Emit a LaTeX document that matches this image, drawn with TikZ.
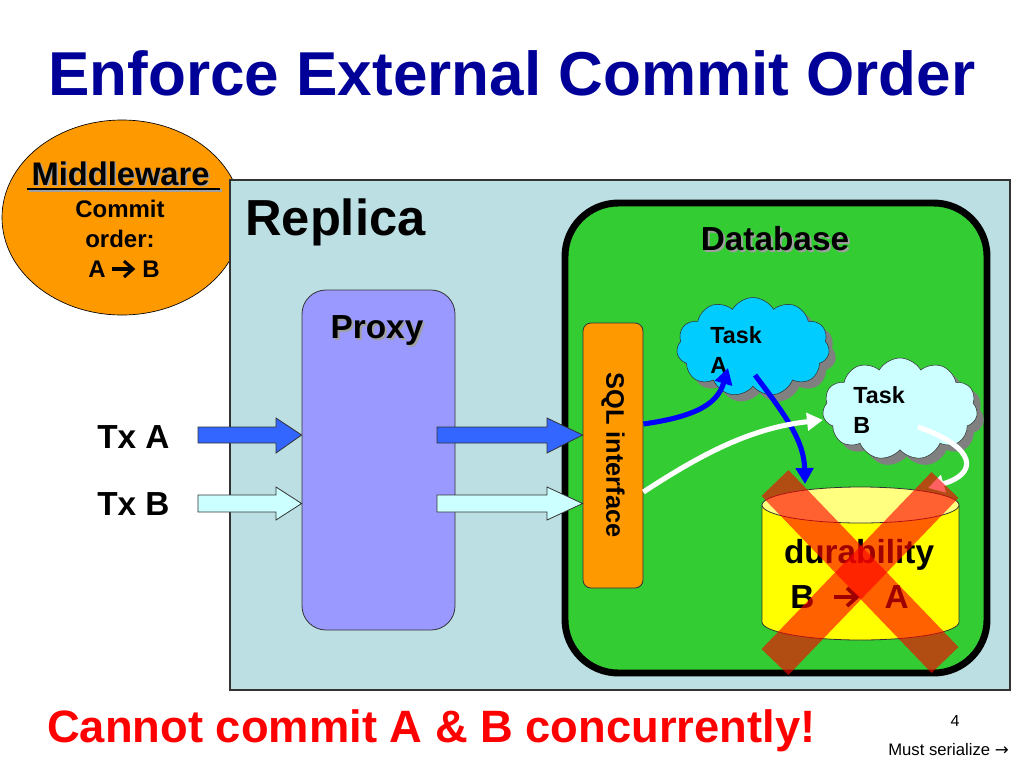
\documentclass[tikz,border=0pt]{standalone}
\usepackage{fontspec}
\setmainfont{Liberation Sans}
\newfontfamily\symfont{DejaVu Sans}
\usetikzlibrary{shapes.symbols,shapes.geometric,shadows,arrows.meta}
\definecolor{titleblue}{HTML}{000099}
\definecolor{replicabg}{HTML}{BCDFE3}
\definecolor{mworange}{HTML}{FF9900}
\definecolor{dbgreen}{HTML}{33CC33}
\definecolor{proxyviolet}{HTML}{9999FF}
\definecolor{arrblue}{HTML}{3366FF}
\definecolor{arrlight}{HTML}{CCFFFF}
\definecolor{taskacol}{HTML}{00CCFF}
\definecolor{taskbcol}{HTML}{CCFFFF}
\definecolor{cylbody}{HTML}{FFFF00}
\definecolor{cyltop}{HTML}{FFFF80}
\definecolor{outl}{HTML}{333333}
\definecolor{shadowgray}{HTML}{A0A0A0}
\tikzset{
  txt/.style={inner sep=0pt, font=\bfseries},
  shtxt/.style={inner sep=0pt, font=\bfseries, text=shadowgray},
  blockarr/.style={draw=outl, line width=0.6pt, line join=miter},
  cloudbox/.style={cloud, cloud puffs=11, cloud puff arc=120, cloud ignores aspect,
     draw=outl, line width=0.4pt, inner sep=0pt,
     drop shadow={shadow xshift=5pt, shadow yshift=-5pt, fill=gray, opacity=1}},
  curvearr/.style={line width=3.8pt, -{Triangle[length=12pt,width=13pt]}},
  glypharr/.style={line width=2.3pt, line join=miter, line cap=butt},
  xbar/.style={line width=28pt, draw=red, opacity=0.62, line cap=butt},
}
\begin{document}
\begin{tikzpicture}[x=0.75pt,y=-0.75pt]
\useasboundingbox (0,0) rectangle (1024,768);
\fill[white] (0,0) rectangle (1024,768);

% title
\node[txt, anchor=base, text=titleblue, font=\bfseries\fontsize{46.5}{50}\selectfont] (title) at (512,95) {Enforce External Commit Order};

% middleware ellipse
\node[ellipse, fill=mworange, draw=black, line width=0.5pt, minimum width=180pt, minimum height=146.25pt, inner sep=0pt] (mw) at (122,217.5) {};

% replica
\node[rectangle, fill=replicabg, draw=outl, line width=0.8pt, minimum width=585pt, minimum height=382.5pt, inner sep=0pt] (replica) at (620,435) {};

% middleware texts
\node[shtxt, anchor=base, font=\bfseries\fontsize{24.5}{28}\selectfont] at (122,186.5) {Middleware};
\draw[shadowgray, line width=1.6pt] (28.5,190.5) -- (221.5,190.5);
\node[txt, anchor=base, font=\bfseries\fontsize{24.5}{28}\selectfont] (mwt) at (120.5,185) {Middleware};
\draw[black, line width=1.6pt] (27,189) -- (220,189);
\node[txt, anchor=base, font=\bfseries\fontsize{18}{20}\selectfont] (mw1) at (120,217) {Commit};
\node[txt, anchor=base, font=\bfseries\fontsize{18}{20}\selectfont] (mw2) at (120,247) {order:};
\node[txt, anchor=base east, font=\bfseries\fontsize{18}{20}\selectfont] (mwA) at (106,277) {A};
\node[txt, anchor=base west, font=\bfseries\fontsize{18}{20}\selectfont] (mwB) at (142,277) {B};
\draw[glypharr] (112,269) -- (132,269);
\draw[glypharr] (124,261) -- (133,269) -- (124,277);

% replica label
\node[txt, anchor=base west, font=\bfseries\fontsize{38}{42}\selectfont] (replicalbl) at (245,235) {Replica};

% Tx labels
\node[txt, anchor=base west, font=\bfseries\fontsize{25}{28}\selectfont] (txa) at (97,448) {Tx A};
\node[txt, anchor=base west, font=\bfseries\fontsize{25}{28}\selectfont] (txb) at (97,515) {Tx B};

% proxy
\node[rectangle, rounded corners=18pt, fill=proxyviolet, draw=outl, line width=0.6pt, minimum width=114.75pt, minimum height=255pt, inner sep=0pt] (proxy) at (378.5,460) {};
\node[shtxt, anchor=base, font=\bfseries\fontsize{25}{28}\selectfont] at (379,340) {Proxy};
\node[txt, anchor=base, font=\bfseries\fontsize{25}{28}\selectfont] (proxylbl) at (377,338) {Proxy};

% database
\node[rectangle, rounded corners=40pt, fill=dbgreen, draw=black, line width=5.2pt, minimum width=316.5pt, minimum height=352.5pt, inner sep=0pt] (db) at (776,438) {};
\node[shtxt, anchor=base, font=\bfseries\fontsize{25}{28}\selectfont] at (777,252) {Database};
\node[txt, anchor=base, font=\bfseries\fontsize{25}{28}\selectfont] (dblbl) at (775,250) {Database};

% SQL interface
\node[rectangle, rounded corners=6pt, fill=mworange, draw=outl, line width=0.6pt, minimum width=45pt, minimum height=198.75pt, inner sep=0pt] (sql) at (613,455.5) {};
\node[txt, rotate=-90, font=\bfseries\fontsize{19}{22}\selectfont] (sqllbl) at (613,455) {SQL interface};

% block arrows
\coordinate (pa) at (proxy.west |- 0,435);
\coordinate (pb) at (proxy.west |- 0,503.5);
\coordinate (sa) at (sql.west |- 0,435);
\coordinate (sb) at (sql.west |- 0,503.5);
\filldraw[blockarr, fill=arrblue] (198,427) -- (276,427) -- (276,418) -- (pa) -- (276,453) -- (276,443) -- (198,443) -- cycle;
\filldraw[blockarr, fill=arrblue] (437,427) -- (547,427) -- (547,418) -- (sa) -- (547,453) -- (547,443) -- (437,443) -- cycle;
\filldraw[blockarr, fill=arrlight] (198,495) -- (276,495) -- (276,487) -- (pb) -- (276,520) -- (276,512) -- (198,512) -- cycle;
\filldraw[blockarr, fill=arrlight] (437,495) -- (547,495) -- (547,487) -- (sb) -- (547,520) -- (547,512) -- (437,512) -- cycle;

% clouds
\node[cloudbox, fill=taskacol, minimum width=114.75pt, minimum height=74.25pt] (taska) at (753,347) {};
\node[txt, anchor=base west, font=\bfseries\fontsize{17.5}{20}\selectfont] (taskat1) at (710,343) {Task};
\node[txt, anchor=base west, font=\bfseries\fontsize{17.5}{20}\selectfont] (taskat2) at (710,373) {A};
\node[cloudbox, fill=taskbcol, minimum width=116.25pt, minimum height=76.5pt] (taskb) at (900,409) {};
\node[txt, anchor=base west, font=\bfseries\fontsize{17.5}{20}\selectfont] (taskbt1) at (853,403) {Task};
\node[txt, anchor=base west, font=\bfseries\fontsize{17.5}{20}\selectfont] (taskbt2) at (853,433) {B};

% cylinder
\fill[cylbody] (762,505) rectangle (959,622);
\fill[cylbody] (860.5,622) ellipse [x radius=98.5, y radius=18];
\draw[outl, line width=0.6pt] (762,505) -- (762,622) arc[start angle=180, end angle=0, x radius=98.5, y radius=18] -- (959,505);
\filldraw[fill=cyltop, draw=outl, line width=0.6pt] (860.5,505) ellipse [x radius=98.5, y radius=18];
\node[txt, anchor=base, font=\bfseries\fontsize{25}{28}\selectfont] (durlbl) at (859,563) {durability};
\node[txt, anchor=base west, font=\bfseries\fontsize{25}{28}\selectfont] (cylB) at (790,608) {B};
\node[txt, anchor=base east, font=\bfseries\fontsize{25}{28}\selectfont] (cylA) at (909,608) {A};
\draw[glypharr, line width=2.8pt] (834,597) -- (856,597);
\draw[glypharr, line width=2.8pt] (847,588) -- (857,597) -- (847,606);

% curved arrows
\coordinate (s1) at (sql.east |- 0,424);
\coordinate (s2) at (sql.east |- 0,492);
\coordinate (ta1) at (728,368);
\coordinate (ta2) at (755,375);
\coordinate (cyla) at (805,484);
\coordinate (tb1) at (823,420);
\coordinate (tb2) at (918,427);
\coordinate (cylb) at (928,488);
\draw[curvearr, draw=blue] (s1) .. controls (700,416) and (718,402) .. (ta1);
\draw[curvearr, draw=blue] (ta2) .. controls (785,415) and (804,440) .. (cyla);
\draw[curvearr, draw=white] (s2) .. controls (700,455) and (750,428) .. (tb1);
\draw[curvearr, draw=white] (tb2) .. controls (978,448) and (978,474) .. (cylb);

% red cross
\draw[xbar] (775,483) -- (945,660);
\draw[xbar] (945,485) -- (775,662);

% footer
\node[txt, anchor=base west, text=red, font=\bfseries\fontsize{34}{38}\selectfont] (footer) at (47,742) {Cannot commit A \& B concurrently!};
\node[inner sep=0pt, anchor=base, font=\fontsize{12}{14}\selectfont] (pagenum) at (955,726) {4};
\node[inner sep=0pt, anchor=base west, font=\fontsize{12.5}{14}\selectfont] (note) at (888,755) {Must serialize {\symfont →}};
\end{tikzpicture}
\end{document}
